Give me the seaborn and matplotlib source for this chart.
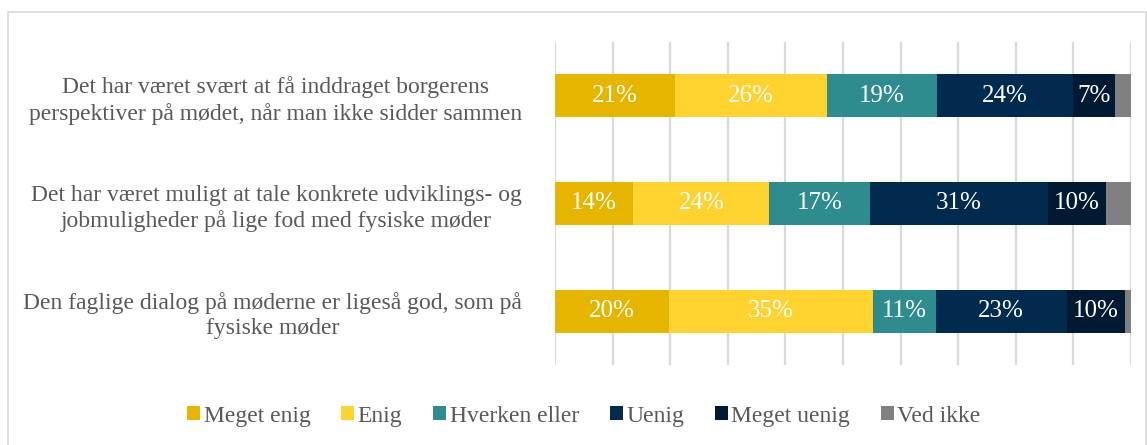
import numpy as np
import pandas as pd
import seaborn as sns
import matplotlib.pyplot as plt
from matplotlib.patches import Patch, Rectangle

# statements (y categories)
statements = [
    "Det har været svært at få inddraget borgerens\nperspektiver på mødet, når man ikke sidder sammen",
    "Det har været muligt at tale konkrete udviklings- og\njobmuligheder på lige fod med fysiske møder",
    "Den faglige dialog på møderne er ligeså god, som på\nfysiske møder",
]

# answer categories and shares (%)
answers = ["Meget enig", "Enig", "Hverken eller", "Uenig", "Meget uenig", "Ved ikke"]
meget_enig = [20.8, 13.6, 19.8]
enig = [26.4, 23.6, 35.4]
hverken_eller = [19.1, 17.4, 10.9]
uenig = [23.6, 30.9, 22.7]
meget_uenig = [7.3, 10.1, 10.1]
ved_ikke = [2.8, 4.4, 1.1]

colors = ["#E5B500", "#FFD22E", "#2E8B8E", "#002B4F", "#001A33", "#808080"]

df = pd.DataFrame({
    "statement": statements,
    "Meget enig": meget_enig,
    "Enig": enig,
    "Hverken eller": hverken_eller,
    "Uenig": uenig,
    "Meget uenig": meget_uenig,
    "Ved ikke": ved_ikke,
})
cum = df[answers].cumsum(axis=1)

sns.set_style("white")
plt.rcParams['font.family'] = ['Liberation Serif', 'DejaVu Serif']

fig = plt.figure(figsize=(11.47, 4.45), dpi=100)
ax = fig.add_axes([0.4839, 0.1798, 0.5022, 0.7258])

# stacked bars: draw cumulative totals from the outermost segment inwards
for name, col in reversed(list(zip(answers, colors))):
    plot_df = pd.DataFrame({"statement": statements, "value": cum[name]})
    sns.barplot(data=plot_df, x="value", y="statement", order=statements,
                orient="h", color=col, width=0.4, saturation=1,
                edgecolor="none", linewidth=0, ax=ax, zorder=3)

# segment labels
for i in range(len(statements)):
    for name in answers[:-1]:
        val = df.loc[i, name]
        mid = cum.loc[i, name] - val / 2
        ax.text(mid, i, f"{val:.0f}%", ha="center", va="center",
                color="white", fontsize=18, zorder=4)

ax.set_xlim(0, 100)
ax.set_ylim(2.5, -0.5)
ax.set_xticks(np.arange(0, 101, 10))
ax.xaxis.grid(True, color="#D9D9D9", linewidth=1.6, zorder=0)
ax.yaxis.grid(False)
ax.set_axisbelow(True)
ax.tick_params(axis="x", length=0, labelbottom=False)
ax.tick_params(axis="y", length=0, pad=24)
ax.set_xlabel("")
ax.set_ylabel("")
for s in ax.spines.values():
    s.set_visible(False)
for t in ax.get_yticklabels():
    t.set_multialignment("center")
    t.set_fontsize(17)
    t.set_color("#595959")
    t.set_linespacing(1.25)

handles = [Patch(facecolor=c, edgecolor="none") for c in colors]
fig.legend(handles, answers, loc="center", bbox_to_anchor=(0.509, 0.065),
           ncol=6, frameon=False, fontsize=17, handlelength=0.55,
           handleheight=0.55, handletextpad=0.15, columnspacing=1.3,
           labelcolor="#595959")

# chart border
fig.patches.append(Rectangle((0.007, -0.01), 0.992, 0.983, transform=fig.transFigure,
                             fill=False, edgecolor="#D9D9D9", linewidth=1.2))

fig.savefig("out.png", dpi=100)
